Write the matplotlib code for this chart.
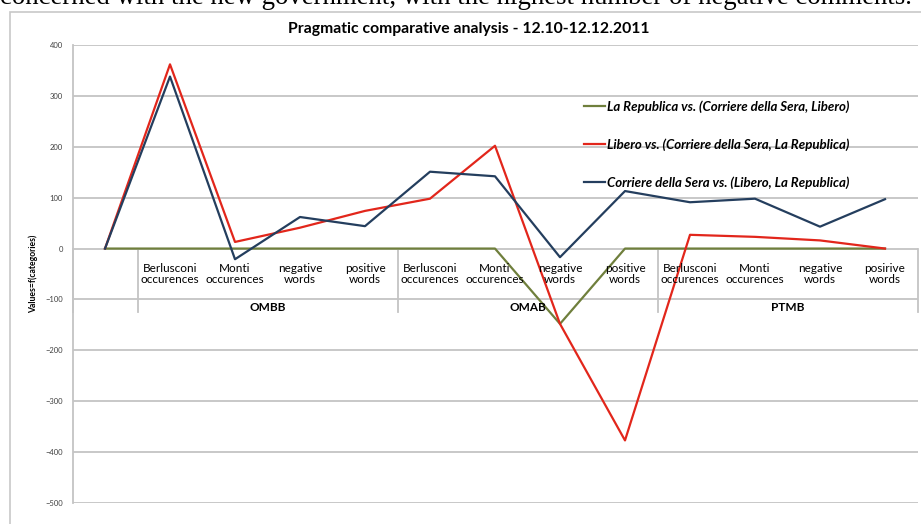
import matplotlib
matplotlib.use("Agg")
import matplotlib.pyplot as plt
from matplotlib.patches import Rectangle

plt.rcParams['font.family'] = ['Lato', 'DejaVu Sans']

groups = ['OMBB', 'OMAB', 'PTMB']
cats = ['Berlusconi\noccurences', 'Monti\noccurences', 'negative\nwords', 'positive\nwords',
        'Berlusconi\noccurences', 'Monti\noccurences', 'negative\nwords', 'positive\nwords',
        'Berlusconi\noccurences', 'Monti\noccurences', 'negative\nwords', 'posirive\nwords']

repubblica = [0, 0, 0, 0, 0, 0, 0, -148, 0, 0, 0, 0, 0]
libero = [0, 362, 13, 41, 74, 98, 202, -148, -377, 27, 23, 16, 0]
corriere = [0, 338, -21, 62, 44, 151, 142, -17, 113, 91, 98, 43, 97]

labels = ['La Republica vs. (Corriere della Sera, Libero)',
          'Libero vs. (Corriere della Sera, La Republica)',
          'Corriere della Sera vs. (Libero, La Republica)']
colors = ['#6f7f3c', '#e2261b', '#243e5e']

fig = plt.figure(figsize=(9.21, 5.24), dpi=100)
fig.patches.append(Rectangle((10 / 921, -0.1), 1.2, 1 - 12 / 524 + 0.1, transform=fig.transFigure,
                             fill=False, edgecolor='#c8c8c8', linewidth=1.2))
fig.text(0.0, 1 - 3.5 / 524, 'concerned with the new government, with the highest number of negative comments.',
         family='Liberation Serif', fontsize=19.3, va='baseline', ha='left')
fig.text(469 / 921, 1 - 29 / 524, 'Pragmatic comparative analysis - 12.10-12.12.2011',
         fontsize=11.3, fontweight='bold', ha='center', va='center')

ax = fig.add_axes([72.5 / 921, 1 - 503 / 524, 845 / 921, 458 / 524])
x = list(range(len(repubblica)))
for ys, lab, c in zip([repubblica, libero, corriere], labels, colors):
    ax.plot(x, ys, color=c, linewidth=1.6, label=lab)

ax.set_xlim(-0.5, 12.5)
ax.set_ylim(-500, 400)
ax.set_yticks(range(-500, 401, 100))
ax.yaxis.grid(True, color='#c4c4c4', linewidth=1.3)
ax.set_axisbelow(True)
ax.set_xticks([])
for s in ['top', 'right', 'bottom']:
    ax.spines[s].set_visible(False)
ax.spines['left'].set_color('#c4c4c4')
ax.spines['left'].set_linewidth(1.3)
ax.tick_params(axis='y', length=0, labelsize=5.5, labelcolor='#404040', pad=7)
ax.set_ylabel('Values=f(categories)', fontsize=6.2, fontweight='bold', labelpad=5)

# category axis at y = 0
for i, c in enumerate(cats):
    ax.text(i + 1, -50, c, ha='center', va='center', fontsize=8.5, linespacing=1.0)
for j, g in enumerate(groups):
    ax.text(4 * j + 2.5, -115, g, ha='center', va='center', fontsize=8.5, fontweight='bold')
for xs in [-0.5, 0.5, 4.5, 8.5, 12.5]:
    ax.plot([xs, xs], [0, -125], color='#c4c4c4', linewidth=1.3, clip_on=False, zorder=1)

ax.legend(loc='upper left', bbox_to_anchor=(572 / 921, 1 - 88 / 524), bbox_transform=fig.transFigure,
          frameon=False, handlelength=1.6, handletextpad=0.15, labelspacing=1.95,
          prop={'size': 9.5, 'style': 'italic', 'weight': 'bold'})

fig.savefig('out.png', dpi=100)
